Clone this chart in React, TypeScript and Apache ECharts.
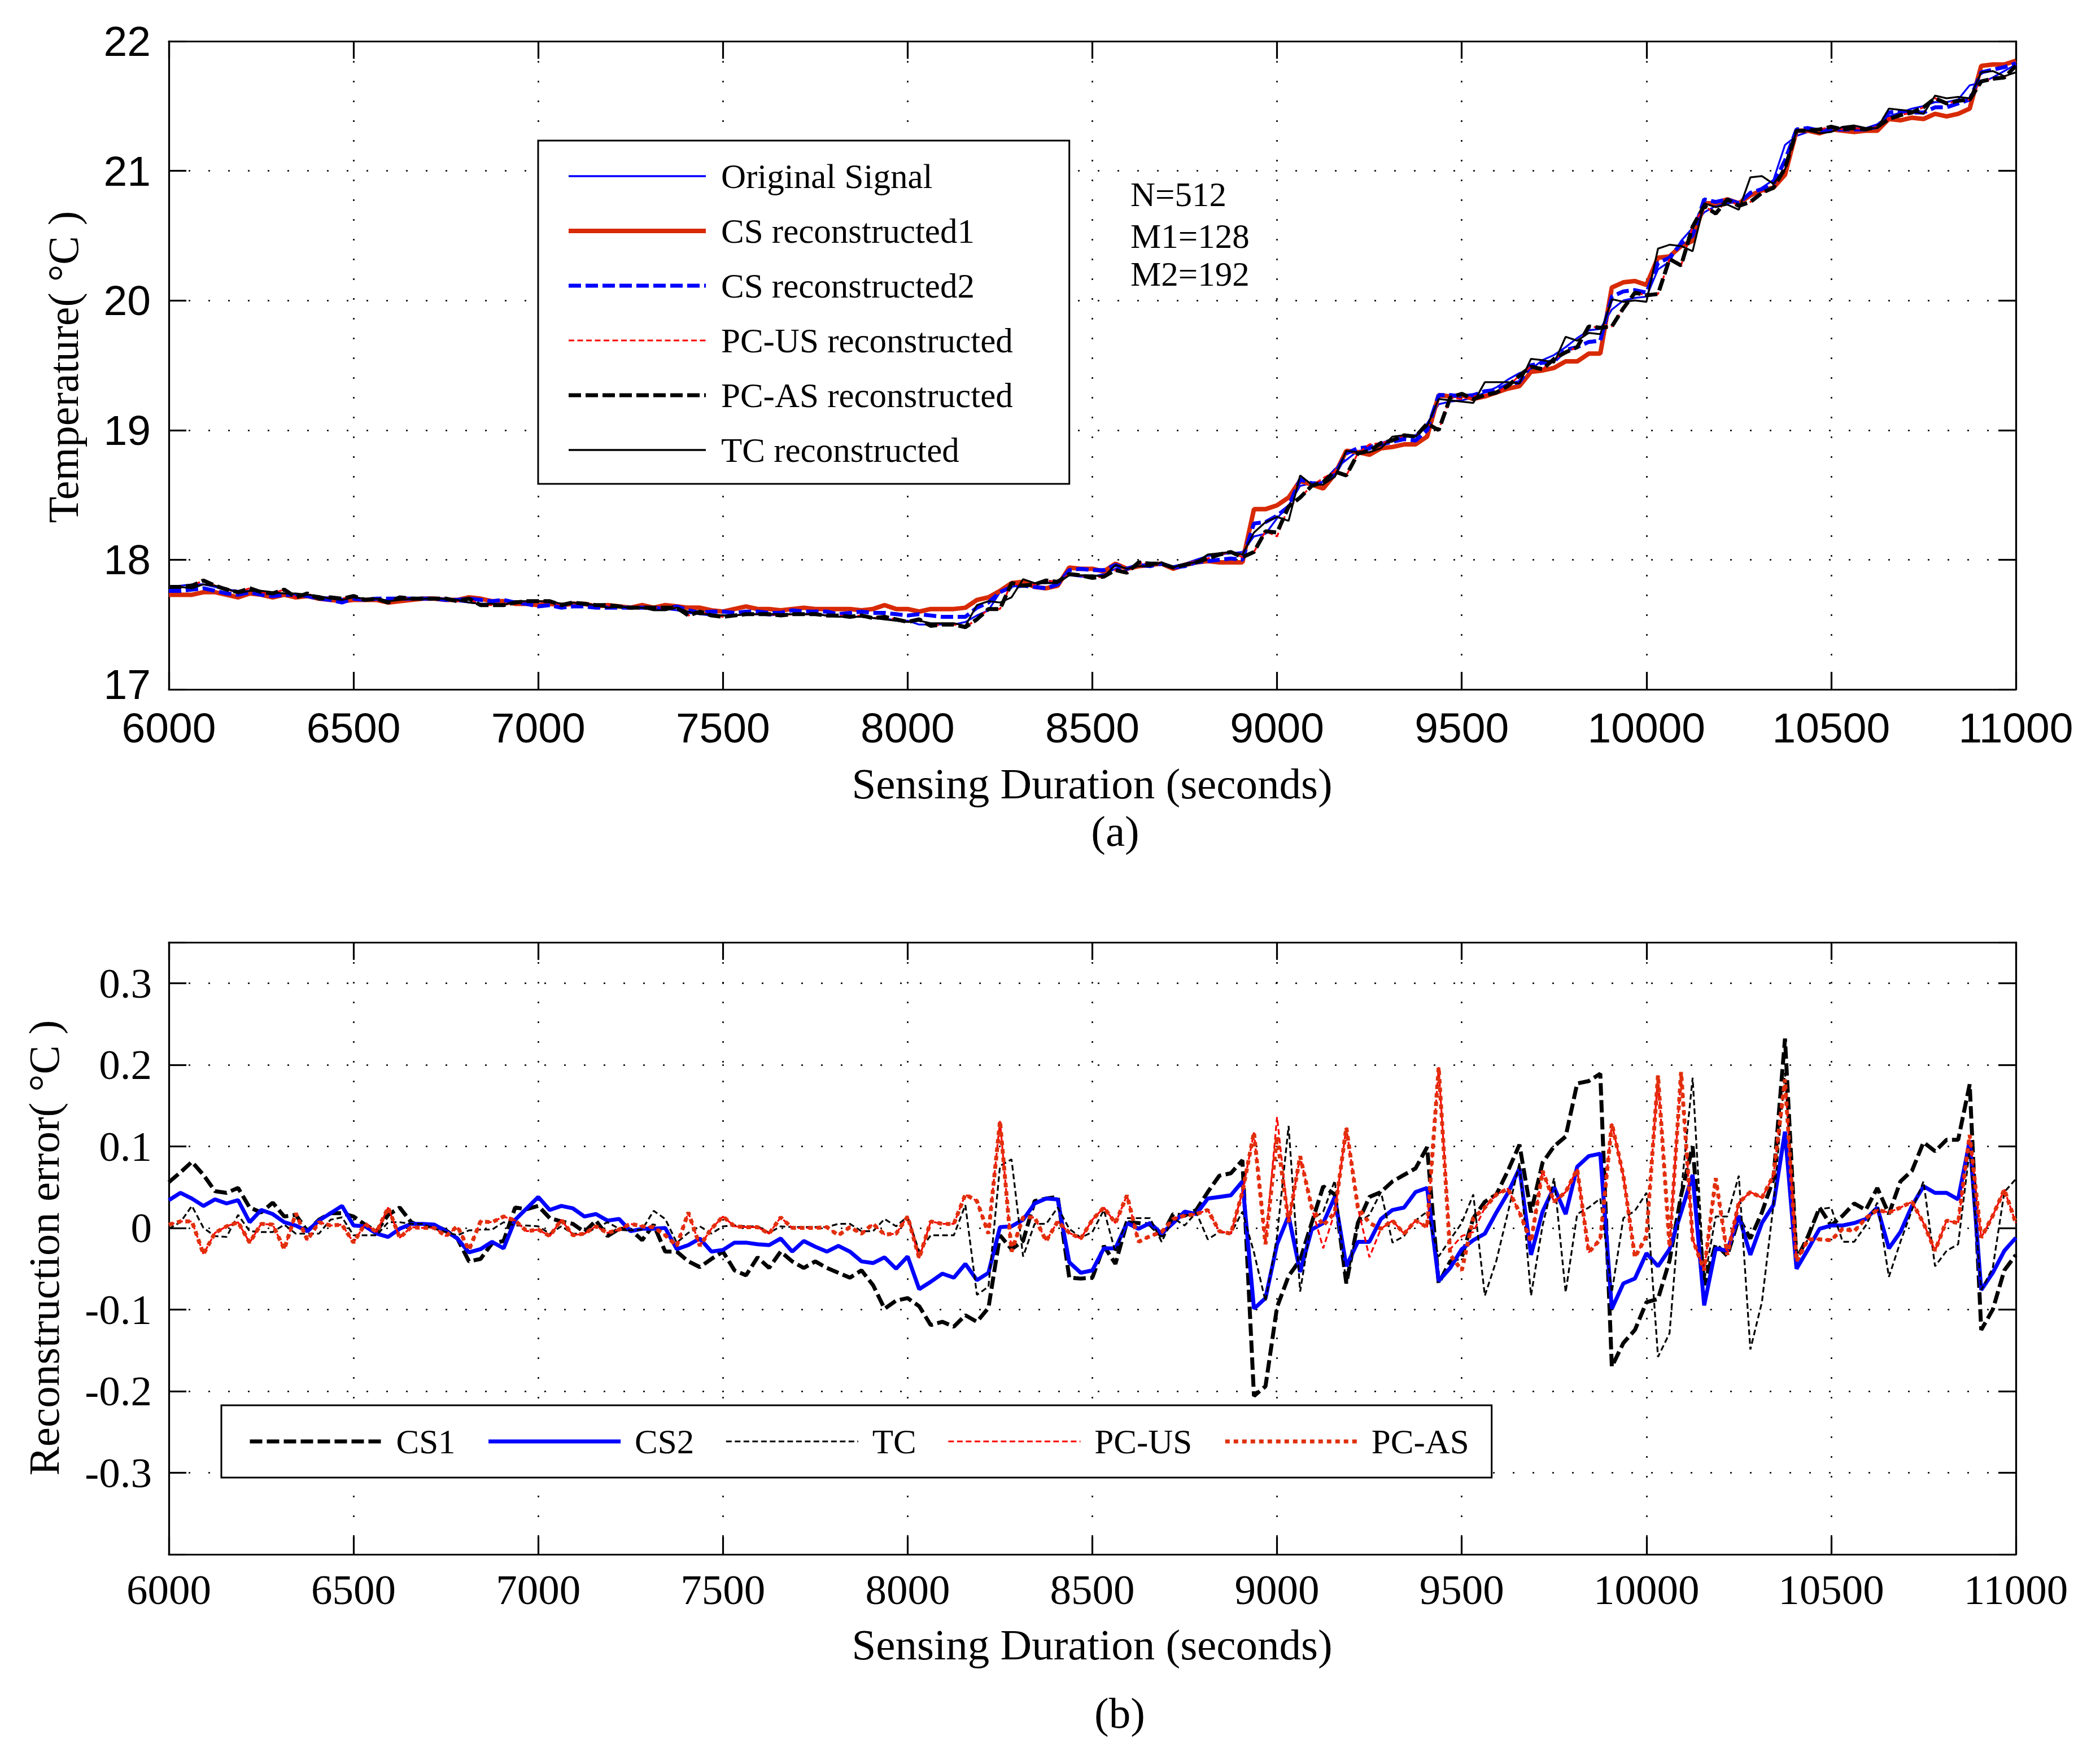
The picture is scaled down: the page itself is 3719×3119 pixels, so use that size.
import React, { useEffect, useRef } from 'react';
import * as echarts from 'echarts';

// sample instants (N=512 over the whole run, 31.25 s apart); 6000..11000 s shown
const sampleTimes: number[] = Array.from({ length: 161 }, (_, k) => 6000 + 31.25 * k);

// ---- panel (a): temperature, deg C ----
const originalSignal = [
  17.79, 17.80, 17.81, 17.81, 17.79, 17.77, 17.76, 17.76, 17.75, 17.74,
  17.74, 17.73, 17.72, 17.71, 17.71, 17.70, 17.70, 17.69, 17.69, 17.69,
  17.70, 17.70, 17.70, 17.70, 17.69, 17.68, 17.67, 17.66, 17.66, 17.66,
  17.68, 17.68, 17.68, 17.67, 17.66, 17.66, 17.65, 17.65, 17.64, 17.64,
  17.63, 17.63, 17.63, 17.62, 17.61, 17.59, 17.58, 17.57, 17.57, 17.57,
  17.58, 17.58, 17.57, 17.58, 17.58, 17.58, 17.58, 17.57, 17.56, 17.56,
  17.56, 17.55, 17.55, 17.53, 17.53, 17.50, 17.50, 17.50, 17.50, 17.52,
  17.57, 17.61, 17.75, 17.79, 17.81, 17.82, 17.82, 17.84, 17.88, 17.87,
  17.87, 17.89, 17.93, 17.94, 17.96, 17.96, 17.96, 17.95, 17.97, 18.00,
  18.03, 18.04, 18.05, 18.06, 18.18, 18.20, 18.32, 18.42, 18.57, 18.59,
  18.60, 18.70, 18.77, 18.84, 18.85, 18.90, 18.93, 18.95, 18.96, 19.05,
  19.20, 19.22, 19.23, 19.25, 19.29, 19.33, 19.39, 19.44, 19.47, 19.54,
  19.58, 19.64, 19.71, 19.77, 19.78, 19.93, 20.00, 20.02, 20.03, 20.24,
  20.30, 20.46, 20.56, 20.68, 20.73, 20.75, 20.76, 20.80, 20.87, 20.93,
  21.20, 21.27, 21.30, 21.31, 21.32, 21.32, 21.33, 21.33, 21.36, 21.42,
  21.45, 21.48, 21.50, 21.53, 21.53, 21.55, 21.66, 21.68, 21.72, 21.77,
  21.82,
];

const csRecon1 = [
  17.73, 17.73, 17.73, 17.75, 17.75, 17.73, 17.71, 17.74, 17.73, 17.71,
  17.73, 17.71, 17.72, 17.70, 17.69, 17.68, 17.69, 17.69, 17.69, 17.67,
  17.68, 17.69, 17.70, 17.70, 17.69, 17.69, 17.71, 17.70, 17.68, 17.68,
  17.66, 17.66, 17.65, 17.66, 17.65, 17.66, 17.66, 17.64, 17.65, 17.64,
  17.63, 17.65, 17.63, 17.65, 17.64, 17.63, 17.63, 17.61, 17.60, 17.62,
  17.64, 17.62, 17.62, 17.61, 17.62, 17.63, 17.62, 17.62, 17.62, 17.62,
  17.61, 17.62, 17.65, 17.62, 17.62, 17.60, 17.62, 17.62, 17.62, 17.63,
  17.69, 17.71, 17.76, 17.82, 17.83, 17.79, 17.78, 17.80, 17.94, 17.93,
  17.93, 17.91, 17.97, 17.93, 17.95, 17.96, 17.97, 17.93, 17.96, 17.98,
  17.99, 17.98, 17.98, 17.98, 18.39, 18.39, 18.42, 18.48, 18.61, 18.58,
  18.55, 18.66, 18.84, 18.83, 18.81, 18.86, 18.87, 18.89, 18.89, 18.95,
  19.27, 19.26, 19.27, 19.24, 19.26, 19.29, 19.32, 19.34, 19.45, 19.46,
  19.48, 19.53, 19.53, 19.59, 19.59, 20.10, 20.14, 20.15, 20.12, 20.33,
  20.34, 20.42, 20.46, 20.75, 20.75, 20.78, 20.75, 20.81, 20.85, 20.87,
  20.97, 21.31, 21.31, 21.29, 21.32, 21.31, 21.30, 21.31, 21.31, 21.40,
  21.39, 21.41, 21.40, 21.44, 21.42, 21.44, 21.48, 21.81, 21.82, 21.82,
  21.85,
];

const csRecon2 = [
  17.76, 17.76, 17.77, 17.78, 17.76, 17.74, 17.73, 17.75, 17.73, 17.72,
  17.73, 17.73, 17.72, 17.70, 17.69, 17.67, 17.70, 17.69, 17.70, 17.70,
  17.70, 17.70, 17.70, 17.70, 17.69, 17.69, 17.70, 17.69, 17.68, 17.69,
  17.67, 17.66, 17.64, 17.65, 17.63, 17.64, 17.64, 17.63, 17.63, 17.63,
  17.63, 17.63, 17.63, 17.62, 17.64, 17.61, 17.59, 17.60, 17.60, 17.59,
  17.60, 17.60, 17.59, 17.59, 17.61, 17.60, 17.60, 17.60, 17.58, 17.59,
  17.60, 17.59, 17.59, 17.58, 17.57, 17.58, 17.57, 17.56, 17.56, 17.56,
  17.63, 17.67, 17.75, 17.79, 17.80, 17.79, 17.78, 17.81, 17.92, 17.93,
  17.92, 17.92, 17.96, 17.93, 17.96, 17.95, 17.97, 17.94, 17.95, 17.98,
  17.99, 18.00, 18.01, 18.00, 18.28, 18.29, 18.34, 18.41, 18.62, 18.59,
  18.59, 18.66, 18.82, 18.86, 18.87, 18.89, 18.91, 18.93, 18.92, 19.00,
  19.27, 19.27, 19.26, 19.27, 19.30, 19.31, 19.35, 19.37, 19.50, 19.52,
  19.53, 19.62, 19.64, 19.68, 19.69, 20.03, 20.07, 20.08, 20.06, 20.29,
  20.33, 20.44, 20.50, 20.78, 20.76, 20.78, 20.75, 20.83, 20.86, 20.90,
  21.08, 21.32, 21.33, 21.31, 21.32, 21.32, 21.32, 21.32, 21.34, 21.45,
  21.46, 21.45, 21.45, 21.49, 21.49, 21.52, 21.55, 21.76, 21.78, 21.80,
  21.83,
];

const pcUsRecon = [
  17.79, 17.79, 17.80, 17.84, 17.80, 17.77, 17.75, 17.78, 17.75, 17.74,
  17.77, 17.71, 17.74, 17.70, 17.71, 17.70, 17.72, 17.69, 17.70, 17.67,
  17.71, 17.70, 17.70, 17.70, 17.70, 17.68, 17.70, 17.65, 17.65, 17.65,
  17.67, 17.68, 17.68, 17.68, 17.65, 17.67, 17.66, 17.65, 17.65, 17.64,
  17.63, 17.63, 17.63, 17.63, 17.63, 17.57, 17.60, 17.57, 17.56, 17.57,
  17.58, 17.58, 17.58, 17.57, 17.58, 17.58, 17.58, 17.57, 17.57, 17.56,
  17.57, 17.55, 17.56, 17.54, 17.52, 17.54, 17.49, 17.50, 17.50, 17.48,
  17.54, 17.62, 17.62, 17.82, 17.80, 17.81, 17.84, 17.83, 17.89, 17.88,
  17.86, 17.87, 17.92, 17.90, 17.98, 17.97, 17.97, 17.94, 17.96, 17.98,
  18.01, 18.04, 18.06, 18.02, 18.06, 18.22, 18.18, 18.41, 18.48, 18.57,
  18.63, 18.68, 18.65, 18.82, 18.89, 18.90, 18.92, 18.96, 18.95, 19.05,
  19.00, 19.25, 19.24, 19.26, 19.27, 19.29, 19.34, 19.42, 19.49, 19.47,
  19.55, 19.60, 19.64, 19.80, 19.79, 19.80, 19.94, 20.06, 20.04, 20.05,
  20.32, 20.27, 20.57, 20.73, 20.67, 20.78, 20.73, 20.76, 20.83, 20.87,
  21.02, 21.31, 21.31, 21.32, 21.34, 21.32, 21.33, 21.32, 21.34, 21.40,
  21.43, 21.45, 21.49, 21.56, 21.52, 21.54, 21.55, 21.69, 21.71, 21.72,
  21.81,
];

const pcAsRecon = [
  17.79, 17.79, 17.80, 17.84, 17.80, 17.77, 17.75, 17.78, 17.75, 17.74,
  17.77, 17.71, 17.74, 17.70, 17.71, 17.70, 17.72, 17.69, 17.70, 17.67,
  17.71, 17.70, 17.70, 17.70, 17.70, 17.68, 17.70, 17.65, 17.65, 17.65,
  17.67, 17.68, 17.68, 17.68, 17.65, 17.67, 17.66, 17.65, 17.65, 17.64,
  17.63, 17.63, 17.63, 17.63, 17.63, 17.57, 17.60, 17.57, 17.56, 17.57,
  17.58, 17.58, 17.58, 17.57, 17.58, 17.58, 17.58, 17.57, 17.57, 17.56,
  17.57, 17.55, 17.56, 17.54, 17.52, 17.54, 17.49, 17.50, 17.50, 17.48,
  17.54, 17.62, 17.62, 17.82, 17.80, 17.81, 17.84, 17.83, 17.89, 17.88,
  17.86, 17.87, 17.92, 17.90, 17.98, 17.97, 17.97, 17.94, 17.96, 17.98,
  18.01, 18.04, 18.06, 18.02, 18.06, 18.22, 18.21, 18.41, 18.48, 18.57,
  18.60, 18.68, 18.65, 18.82, 18.84, 18.90, 18.92, 18.96, 18.95, 19.05,
  19.00, 19.25, 19.28, 19.24, 19.27, 19.29, 19.34, 19.42, 19.49, 19.47,
  19.55, 19.60, 19.64, 19.80, 19.79, 19.80, 19.94, 20.06, 20.04, 20.05,
  20.32, 20.27, 20.57, 20.73, 20.67, 20.78, 20.73, 20.76, 20.83, 20.87,
  21.02, 21.31, 21.31, 21.32, 21.34, 21.32, 21.33, 21.32, 21.34, 21.40,
  21.43, 21.45, 21.49, 21.56, 21.52, 21.54, 21.55, 21.69, 21.71, 21.72,
  21.81,
];

const tcRecon = [
  17.79, 17.79, 17.78, 17.81, 17.80, 17.78, 17.74, 17.76, 17.76, 17.75,
  17.74, 17.74, 17.73, 17.72, 17.70, 17.69, 17.71, 17.70, 17.70, 17.68,
  17.69, 17.70, 17.70, 17.70, 17.70, 17.69, 17.67, 17.66, 17.66, 17.65,
  17.68, 17.68, 17.68, 17.68, 17.66, 17.67, 17.66, 17.65, 17.63, 17.64,
  17.63, 17.63, 17.61, 17.61, 17.63, 17.60, 17.58, 17.58, 17.57, 17.57,
  17.58, 17.58, 17.58, 17.58, 17.58, 17.58, 17.58, 17.57, 17.56, 17.56,
  17.56, 17.55, 17.54, 17.53, 17.52, 17.53, 17.51, 17.51, 17.51, 17.49,
  17.65, 17.68, 17.67, 17.71, 17.85, 17.82, 17.82, 17.82, 17.88, 17.88,
  17.88, 17.87, 17.96, 17.93, 17.95, 17.95, 17.98, 17.94, 17.97, 17.98,
  18.04, 18.05, 18.06, 18.04, 18.21, 18.29, 18.33, 18.30, 18.65, 18.58,
  18.58, 18.64, 18.84, 18.83, 18.83, 18.86, 18.95, 18.96, 18.95, 19.03,
  19.24, 19.23, 19.22, 19.21, 19.37, 19.37, 19.37, 19.36, 19.55, 19.54,
  19.52, 19.72, 19.69, 19.75, 19.74, 20.01, 19.99, 20.00, 19.99, 20.40,
  20.43, 20.42, 20.38, 20.75, 20.72, 20.74, 20.70, 20.95, 20.96, 20.90,
  21.01, 21.31, 21.31, 21.29, 21.30, 21.34, 21.35, 21.33, 21.33, 21.48,
  21.47, 21.46, 21.44, 21.58, 21.56, 21.57, 21.56, 21.76, 21.77, 21.73,
  21.76,
];

// ---- panel (b): reconstruction error (original - reconstructed), deg C ----
const errCs1 = [
  0.056, 0.068, 0.081, 0.065, 0.045, 0.043, 0.049, 0.025, 0.019, 0.031,
  0.014, 0.016, -0.004, 0.010, 0.018, 0.018, 0.014, 0.004, -0.004, 0.016,
  0.025, 0.007, 0.001, 0.003, -0.003, -0.013, -0.041, -0.038, -0.019, -0.016,
  0.025, 0.023, 0.027, 0.012, 0.008, 0.005, -0.005, 0.009, -0.010, -0.001,
  -0.002, -0.015, 0.004, -0.029, -0.029, -0.041, -0.048, -0.038, -0.029, -0.052,
  -0.058, -0.036, -0.049, -0.029, -0.041, -0.049, -0.041, -0.049, -0.055, -0.061,
  -0.052, -0.070, -0.099, -0.089, -0.086, -0.096, -0.119, -0.115, -0.121, -0.107,
  -0.115, -0.098, -0.009, -0.026, -0.016, 0.033, 0.036, 0.038, -0.061, -0.062,
  -0.061, -0.022, -0.044, 0.007, 0.006, 0.004, -0.010, 0.017, 0.015, 0.022,
  0.044, 0.064, 0.067, 0.083, -0.206, -0.194, -0.097, -0.059, -0.039, 0.006,
  0.051, 0.041, -0.068, 0.006, 0.038, 0.044, 0.057, 0.065, 0.073, 0.099,
  -0.068, -0.041, -0.036, 0.012, 0.032, 0.041, 0.070, 0.102, 0.019, 0.080,
  0.100, 0.112, 0.177, 0.180, 0.189, -0.170, -0.141, -0.125, -0.091, -0.087,
  -0.040, 0.040, 0.100, -0.070, -0.020, -0.034, 0.012, -0.013, 0.019, 0.060,
  0.232, -0.039, -0.010, 0.025, 0.003, 0.015, 0.030, 0.022, 0.049, 0.017,
  0.057, 0.070, 0.105, 0.094, 0.108, 0.108, 0.176, -0.125, -0.100, -0.052,
  -0.033,
];

const errCs2 = [
  0.034, 0.043, 0.036, 0.027, 0.035, 0.030, 0.034, 0.007, 0.022, 0.017,
  0.007, 0.003, -0.004, 0.009, 0.018, 0.027, 0.003, 0.002, -0.007, -0.011,
  -0.001, 0.005, 0.005, 0.004, -0.004, -0.013, -0.030, -0.026, -0.017, -0.025,
  0.010, 0.024, 0.038, 0.022, 0.027, 0.024, 0.014, 0.017, 0.009, 0.011,
  -0.004, -0.001, -0.001, 0.000, -0.026, -0.021, -0.013, -0.029, -0.027, -0.018,
  -0.018, -0.020, -0.021, -0.013, -0.029, -0.016, -0.023, -0.029, -0.022, -0.029,
  -0.041, -0.043, -0.036, -0.050, -0.035, -0.075, -0.066, -0.056, -0.061, -0.044,
  -0.064, -0.055, 0.001, 0.002, 0.010, 0.030, 0.036, 0.035, -0.042, -0.055,
  -0.052, -0.025, -0.025, 0.006, -0.001, 0.006, -0.007, 0.006, 0.020, 0.017,
  0.036, 0.038, 0.040, 0.057, -0.099, -0.086, -0.020, 0.015, -0.054, -0.002,
  0.006, 0.038, -0.047, -0.017, -0.017, 0.011, 0.022, 0.025, 0.044, 0.049,
  -0.065, -0.049, -0.026, -0.015, -0.007, 0.019, 0.043, 0.073, -0.033, 0.020,
  0.050, 0.017, 0.075, 0.088, 0.091, -0.099, -0.068, -0.062, -0.031, -0.047,
  -0.026, 0.019, 0.065, -0.095, -0.025, -0.028, 0.015, -0.033, 0.006, 0.028,
  0.118, -0.050, -0.026, -0.001, 0.003, 0.003, 0.006, 0.011, 0.025, -0.025,
  -0.005, 0.027, 0.051, 0.043, 0.043, 0.035, 0.107, -0.076, -0.055, -0.028,
  -0.012,
];

const errTc = [
  -0.001, 0.007, 0.027, 0.000, -0.010, -0.011, 0.016, -0.004, -0.005, -0.005,
  0.004, -0.007, -0.007, -0.007, 0.010, 0.013, -0.009, -0.009, -0.009, 0.007,
  0.007, 0.005, 0.005, -0.001, -0.005, -0.009, -0.003, -0.002, -0.002, 0.007,
  0.003, 0.003, 0.002, -0.007, 0.002, -0.007, -0.007, 0.000, 0.007, -0.001,
  -0.003, -0.002, 0.021, 0.011, -0.018, -0.006, 0.002, -0.007, 0.002, 0.003,
  0.002, 0.002, -0.006, 0.002, 0.001, 0.001, 0.001, 0.001, 0.005, 0.005,
  -0.004, -0.004, 0.011, 0.002, 0.014, -0.029, -0.009, -0.009, -0.009, 0.028,
  -0.082, -0.072, 0.076, 0.084, -0.035, 0.005, 0.005, 0.025, -0.001, -0.012,
  -0.005, 0.022, -0.030, 0.012, 0.012, 0.012, -0.017, 0.012, 0.003, 0.019,
  -0.014, -0.005, -0.007, 0.020, -0.030, -0.090, -0.010, 0.125, -0.078, 0.010,
  0.020, 0.058, -0.070, 0.006, 0.016, 0.044, -0.018, -0.010, 0.009, 0.020,
  -0.035, -0.014, 0.006, 0.041, -0.083, -0.040, 0.019, 0.080, -0.083, 0.003,
  0.061, -0.079, 0.017, 0.025, 0.036, -0.079, 0.012, 0.021, 0.043, -0.158,
  -0.129, 0.044, 0.184, -0.065, 0.014, 0.014, 0.064, -0.149, -0.091, 0.028,
  0.190, -0.036, -0.014, 0.023, 0.025, -0.017, -0.017, 0.003, 0.031, -0.060,
  -0.017, 0.022, 0.057, -0.047, -0.028, -0.020, 0.096, -0.076, -0.049, 0.044,
  0.060,
];

const errPcUs = [
  0.004, 0.008, 0.008, -0.032, -0.006, 0.002, 0.007, -0.018, 0.005, 0.004,
  -0.026, 0.018, -0.015, 0.007, 0.003, 0.004, -0.018, 0.005, -0.005, 0.025,
  -0.012, 0.001, 0.000, 0.000, -0.010, 0.002, -0.027, 0.008, 0.007, 0.014,
  0.009, -0.004, -0.002, -0.010, 0.010, -0.009, -0.007, 0.002, -0.006, -0.002,
  0.005, 0.002, 0.001, -0.009, -0.022, 0.019, -0.022, -0.001, 0.014, 0.002,
  0.001, 0.001, -0.007, 0.013, 0.000, 0.000, 0.000, 0.001, -0.009, 0.001,
  -0.007, 0.005, -0.008, -0.007, 0.014, -0.037, 0.008, 0.005, 0.005, 0.041,
  0.033, -0.007, 0.131, -0.029, 0.013, 0.013, -0.016, 0.008, -0.006, -0.013,
  0.010, 0.025, 0.006, 0.040, -0.017, -0.010, -0.005, 0.011, 0.015, 0.017,
  0.022, -0.004, -0.007, 0.044, 0.117, -0.020, 0.136, 0.007, 0.088, 0.025,
  -0.025, 0.019, 0.123, 0.025, -0.036, -0.001, 0.009, -0.007, 0.009, 0.001,
  0.197, -0.026, -0.010, -0.005, 0.025, 0.041, 0.048, 0.019, -0.017, 0.070,
  0.032, 0.044, 0.072, -0.030, -0.014, 0.128, 0.064, -0.036, -0.010, 0.187,
  -0.023, 0.191, -0.014, -0.052, 0.061, -0.033, 0.031, 0.044, 0.037, 0.064,
  0.182, -0.041, -0.014, -0.014, -0.015, -0.001, -0.004, 0.012, 0.022, 0.019,
  0.025, 0.032, 0.006, -0.028, 0.009, 0.006, 0.114, -0.012, 0.015, 0.047,
  0.006,
];

const errPcAs = [
  0.004, 0.008, 0.008, -0.032, -0.006, 0.002, 0.007, -0.018, 0.005, 0.004,
  -0.026, 0.018, -0.015, 0.007, 0.003, 0.004, -0.018, 0.005, -0.005, 0.025,
  -0.012, 0.001, 0.000, 0.000, -0.010, 0.002, -0.027, 0.008, 0.007, 0.014,
  0.009, -0.004, -0.002, -0.010, 0.010, -0.009, -0.007, 0.002, -0.006, -0.002,
  0.005, 0.002, 0.001, -0.009, -0.022, 0.019, -0.022, -0.001, 0.014, 0.002,
  0.001, 0.001, -0.007, 0.013, 0.000, 0.000, 0.000, 0.001, -0.009, 0.001,
  -0.007, 0.005, -0.008, -0.007, 0.014, -0.037, 0.008, 0.005, 0.005, 0.041,
  0.033, -0.007, 0.131, -0.029, 0.013, 0.013, -0.016, 0.008, -0.006, -0.013,
  0.010, 0.025, 0.006, 0.040, -0.017, -0.010, -0.005, 0.011, 0.015, 0.017,
  0.022, -0.004, -0.007, 0.044, 0.117, -0.020, 0.112, 0.007, 0.088, 0.025,
  0.003, 0.019, 0.123, 0.025, 0.006, -0.001, 0.009, -0.007, 0.009, 0.001,
  0.197, -0.033, -0.052, 0.012, 0.025, 0.041, 0.048, 0.019, -0.017, 0.070,
  0.032, 0.044, 0.072, -0.030, -0.014, 0.128, 0.064, -0.036, -0.010, 0.187,
  -0.023, 0.191, -0.014, -0.052, 0.061, -0.033, 0.031, 0.044, 0.037, 0.064,
  0.182, -0.041, -0.014, -0.014, -0.015, -0.001, -0.004, 0.012, 0.022, 0.019,
  0.025, 0.032, 0.006, -0.028, 0.009, 0.006, 0.114, -0.012, 0.015, 0.047,
  0.006,
];

const SERIF = '"Liberation Serif", "Times New Roman", serif';
const SANS = '"Liberation Sans", Arial, sans-serif';
const THICK_DASH = [22, 8];
const THIN_DASH = [10, 5.5];
const DOTS = [8, 7];

const toPoints = (vals: number[]) => vals.map((v, i) => [sampleTimes[i], v]);

const axisLineStyle = { show: true, onZero: false, lineStyle: { color: '#000', width: 3.2 } };
const innerTicks = { show: true, inside: true, length: 31, lineStyle: { color: '#000', width: 3.2 } };
const dottedGrid = { show: true, lineStyle: { color: '#000', width: 2.6, type: [3, 32] } };

const plainNumber = (v: number) => String(v);

// lowest temperature label is lifted a little so it clears the "6000" below it
const tempLabel = (v: number) => (v === 17 ? '{lo|17}' : String(v));

const errLabel = (v: number) => {
  const r = Math.round(v * 10) / 10;
  if (Math.abs(v - r) > 1e-6 || Math.abs(r) > 0.31) return '';
  return r === 0 ? '0' : String(r);
};

const ReconstructionChart: React.FC = () => {
  const chartRef = useRef<HTMLDivElement | null>(null);

  useEffect(() => {
    if (!chartRef.current) return;
    const chart = echarts.init(chartRef.current, null, { renderer: 'svg' });

    const xCommon = { type: 'value', min: 6000, max: 11000, interval: 500 };

    const topSeries = [
      { name: 'Original Signal', data: originalSignal, color: '#0000ff', width: 3.3, type: 'solid' as any },
      { name: 'CS reconstructed1', data: csRecon1, color: '#d82a04', width: 8, type: 'solid' as any },
      { name: 'CS reconstructed2', data: csRecon2, color: '#0000ff', width: 7, type: THICK_DASH },
      { name: 'PC-US reconstructed', data: pcUsRecon, color: '#ff0000', width: 3.2, type: THIN_DASH },
      { name: 'PC-AS reconstructed', data: pcAsRecon, color: '#000000', width: 7, type: THICK_DASH },
      { name: 'TC reconstructed', data: tcRecon, color: '#000000', width: 3.3, type: 'solid' as any },
    ];
    const bottomSeries = [
      { name: 'CS1', data: errCs1, color: '#000000', width: 7, type: THICK_DASH },
      { name: 'CS2', data: errCs2, color: '#0000ff', width: 7, type: 'solid' as any },
      { name: 'TC', data: errTc, color: '#000000', width: 3.2, type: THIN_DASH },
      { name: 'PC-US', data: errPcUs, color: '#ff0000', width: 3.2, type: THIN_DASH },
      { name: 'PC-AS', data: errPcAs, color: '#e0300c', width: 7, type: DOTS },
    ];

    const makeSeries = (s: any, gi: number) => ({
      name: s.name,
      type: 'line',
      xAxisIndex: gi * 2,
      yAxisIndex: gi * 2,
      data: toPoints(s.data),
      symbol: 'none',
      showSymbol: false,
      clip: true,
      color: s.color,
      lineStyle: { color: s.color, width: s.width, type: s.type },
    });

    const legendItem = (s: any) => ({
      name: s.name,
      lineStyle: { color: s.color, width: s.width, type: s.type },
    });

    // line-only legend keys (the marker dot is made invisible)
    const hiddenMarker = { opacity: 0, color: 'rgba(0,0,0,0)', borderWidth: 0, borderColor: 'rgba(0,0,0,0)' };

    const option = {
      animation: false,
      backgroundColor: '#ffffff',
      grid: [
        { left: 299, top: 73, width: 3271, height: 1148 },
        { left: 299, top: 1669, width: 3271, height: 1084 },
      ],
      xAxis: [
        {
          ...xCommon, gridIndex: 0, position: 'bottom',
          axisLine: axisLineStyle, axisTick: innerTicks,
          axisLabel: { fontFamily: SANS, fontSize: 75, color: '#000', margin: 30, formatter: plainNumber },
          splitLine: dottedGrid,
        },
        {
          ...xCommon, gridIndex: 0, position: 'top',
          axisLine: axisLineStyle, axisTick: innerTicks,
          axisLabel: { show: false }, splitLine: { show: false },
        },
        {
          ...xCommon, gridIndex: 1, position: 'bottom',
          axisLine: axisLineStyle, axisTick: innerTicks,
          axisLabel: { fontFamily: SERIF, fontSize: 75, color: '#000', margin: 25, formatter: plainNumber },
          splitLine: dottedGrid,
        },
        {
          ...xCommon, gridIndex: 1, position: 'top',
          axisLine: axisLineStyle, axisTick: innerTicks,
          axisLabel: { show: false }, splitLine: { show: false },
        },
      ],
      yAxis: [
        {
          type: 'value', gridIndex: 0, position: 'left', min: 17, max: 22, interval: 1,
          axisLine: axisLineStyle, axisTick: innerTicks,
          axisLabel: {
            fontFamily: SANS, fontSize: 75, color: '#000', margin: 32, formatter: tempLabel,
            rich: { lo: { fontFamily: SANS, fontSize: 75, color: '#000', padding: [0, 0, 18, 0] } },
          },
          splitLine: dottedGrid,
        },
        {
          type: 'value', gridIndex: 0, position: 'right', min: 17, max: 22, interval: 1,
          axisLine: axisLineStyle, axisTick: innerTicks,
          axisLabel: { show: false }, splitLine: { show: false },
        },
        {
          type: 'value', gridIndex: 1, position: 'left', min: -0.4, max: 0.35, interval: 0.1,
          axisLine: axisLineStyle, axisTick: innerTicks,
          axisLabel: { fontFamily: SERIF, fontSize: 75, color: '#000', margin: 30, formatter: errLabel },
          splitLine: dottedGrid,
        },
        {
          type: 'value', gridIndex: 1, position: 'right', min: -0.4, max: 0.35, interval: 0.1,
          axisLine: axisLineStyle, axisTick: innerTicks,
          axisLabel: { show: false }, splitLine: { show: false },
        },
      ],
      legend: [
        {
          orient: 'vertical', left: 953, top: 249,
          padding: [28, 100, 25, 50],
          itemWidth: 243, itemHeight: 20, itemGap: 27,
          backgroundColor: '#ffffff', borderColor: '#000', borderWidth: 3,
          selectedMode: false,
          itemStyle: hiddenMarker,
          textStyle: { fontFamily: SERIF, fontSize: 61, color: '#000', lineHeight: 70, padding: [0, 0, 0, 22] },
          data: topSeries.map(legendItem),
        },
        {
          orient: 'horizontal', left: 392, top: 2489,
          padding: [29, 40, 29, 47],
          itemWidth: 234, itemHeight: 20, itemGap: 55,
          backgroundColor: '#ffffff', borderColor: '#000', borderWidth: 3,
          selectedMode: false,
          itemStyle: hiddenMarker,
          textStyle: { fontFamily: SERIF, fontSize: 61, color: '#000', lineHeight: 70, padding: [0, 0, 0, 20] },
          data: bottomSeries.map(legendItem),
        },
      ],
      graphic: [
        {
          type: 'text', x: 112, y: 650, rotation: Math.PI / 2,
          style: { text: 'Temperature( °C )', font: `76px ${SERIF}`, fill: '#000', textAlign: 'center', textVerticalAlign: 'middle' },
        },
        {
          type: 'text', x: 78, y: 2210, rotation: Math.PI / 2,
          style: { text: 'Reconstruction error( °C )', font: `77px ${SERIF}`, fill: '#000', textAlign: 'center', textVerticalAlign: 'middle' },
        },
        {
          type: 'text', x: 1934, y: 1388,
          style: { text: 'Sensing Duration (seconds)', font: `77px ${SERIF}`, fill: '#000', textAlign: 'center', textVerticalAlign: 'middle' },
        },
        {
          type: 'text', x: 1975, y: 1472,
          style: { text: '(a)', font: `77px ${SERIF}`, fill: '#000', textAlign: 'center', textVerticalAlign: 'middle' },
        },
        {
          type: 'text', x: 1934, y: 2913,
          style: { text: 'Sensing Duration (seconds)', font: `77px ${SERIF}`, fill: '#000', textAlign: 'center', textVerticalAlign: 'middle' },
        },
        {
          type: 'text', x: 1983, y: 3034,
          style: { text: '(b)', font: `77px ${SERIF}`, fill: '#000', textAlign: 'center', textVerticalAlign: 'middle' },
        },
        {
          type: 'text', x: 2002, y: 344,
          style: { text: 'N=512', font: `61px ${SERIF}`, fill: '#000', textAlign: 'left', textVerticalAlign: 'middle' },
        },
        {
          type: 'text', x: 2002, y: 418,
          style: { text: 'M1=128', font: `61px ${SERIF}`, fill: '#000', textAlign: 'left', textVerticalAlign: 'middle' },
        },
        {
          type: 'text', x: 2002, y: 485,
          style: { text: 'M2=192', font: `61px ${SERIF}`, fill: '#000', textAlign: 'left', textVerticalAlign: 'middle' },
        },
      ],
      series: [
        ...topSeries.map((s) => makeSeries(s, 0)),
        ...bottomSeries.map((s) => makeSeries(s, 1)),
      ],
    };

    chart.setOption(option as any);

    return () => {
      chart.dispose();
    };
  }, []);

  return (
    <div
      ref={chartRef}
      style={{ position: 'absolute', left: 0, top: 0, width: '3719px', height: '3119px', background: '#fff' }}
    />
  );
};

export default function App() {
  return <ReconstructionChart />;
}
